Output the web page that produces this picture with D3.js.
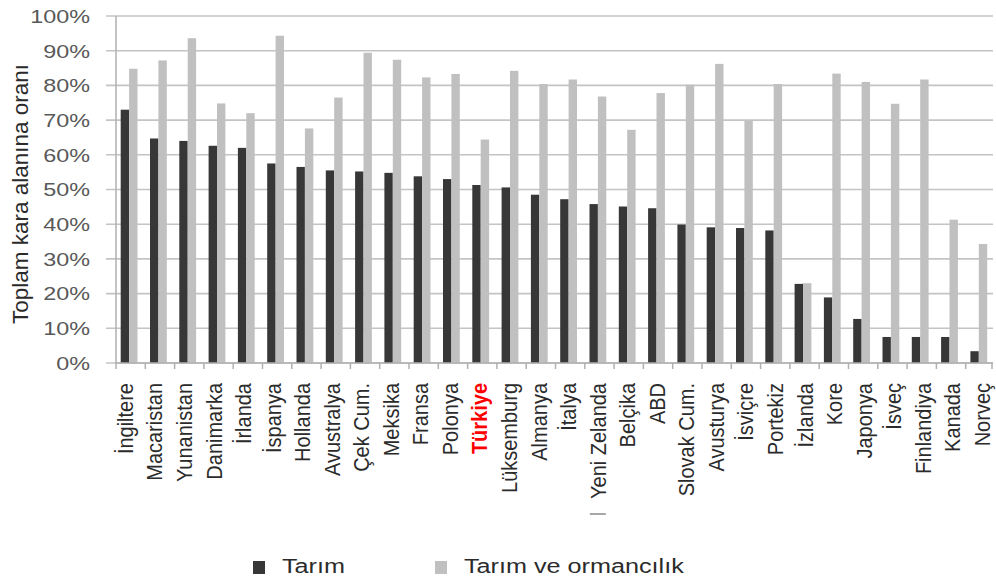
<!DOCTYPE html>
<html><head><meta charset="utf-8">
<script src="https://cdn.jsdelivr.net/npm/d3@7"></script>
<style>body{margin:0;background:#fff}svg{display:block}text{font-family:"Liberation Sans",Arial,sans-serif}</style>
</head><body><svg id="c" width="996" height="578"></svg>
<script>
const categories = ["İngiltere","Macaristan","Yunanistan","Danimarka","İrlanda","İspanya","Hollanda","Avustralya","Çek Cum.","Meksika","Fransa","Polonya","Türkiye","Lüksemburg","Almanya","İtalya","Yeni Zelanda","Belçika","ABD","Slovak Cum.","Avusturya","İsviçre","Portekiz","İzlanda","Kore","Japonya","İsveç","Finlandiya","Kanada","Norveç"];
const tarim = [73,64.7,64,62.6,62,57.5,56.5,55.5,55.2,54.8,53.8,53,51.3,50.6,48.5,47.2,45.8,45.1,44.6,39.9,39.1,38.9,38.2,22.8,18.9,12.7,7.5,7.5,7.5,3.4];
const tarimOrman = [84.8,87.2,93.6,74.8,72,94.3,67.6,76.5,89.4,87.4,82.3,83.3,64.4,84.2,80.4,81.7,76.8,67.2,77.8,80.2,86.2,69.9,80.4,23,83.4,81,74.7,81.7,41.3,34.3];
const yTicks = [0,10,20,30,40,50,60,70,80,90,100];
const seriesNames = ["Tarım","Tarım ve ormancılık"];
const seriesColors = ["#373737","#c0c0c0"];
const highlight = "Türkiye";

const svg = d3.select("#c");
const y = d3.scaleLinear().domain([0,100]).range([363,16]);
const x = d3.scaleBand().domain(categories).range([116,995]);
const xs = d3.scaleBand().domain([0,1]).range([4.7,21.5]);
const xl = d3.scalePoint().domain(categories).range([125,982]);

// gridlines
svg.append("g").selectAll("line").data(yTicks).join("line")
  .attr("x1",106).attr("x2",993).attr("y1",d=>y(d)).attr("y2",d=>y(d))
  .attr("stroke","#c4c4c4").attr("stroke-width",1.6);

// y tick labels
svg.append("g").selectAll("text").data(yTicks).join("text")
  .attr("transform",d=>`translate(90,${y(d)}) scale(1.23,1)`)
  .attr("dy","0.36em").attr("text-anchor","end")
  .attr("font-size",19).attr("fill","#595959").text(d=>d+"%");

// y axis line
svg.append("line").attr("x1",116).attr("x2",116).attr("y1",y(100)).attr("y2",y(0))
  .attr("stroke","#b0b0b0").attr("stroke-width",1.5);

// bars
const data = categories.map((c,i)=>({c, v:[tarim[i],tarimOrman[i]]}));
const g = svg.append("g").selectAll("g").data(data).join("g")
  .attr("transform",d=>`translate(${x(d.c)},0)`);
g.selectAll("rect").data(d=>d.v.map((v,k)=>({v,k}))).join("rect")
  .attr("x",d=>xs(d.k)).attr("width",xs.bandwidth())
  .attr("y",d=>y(d.v)).attr("height",d=>y(0)-y(d.v))
  .attr("fill",d=>seriesColors[d.k]);

// x axis line + ticks
svg.append("line").attr("x1",116).attr("x2",993).attr("y1",y(0)).attr("y2",y(0))
  .attr("stroke","#b0b0b0").attr("stroke-width",1.5);
const bounds = categories.map(c=>x(c)).concat([x(categories[categories.length-1])+x.bandwidth()-3]);
svg.append("g").selectAll("line").data(bounds).join("line")
  .attr("x1",d=>d).attr("x2",d=>d).attr("y1",y(0)).attr("y2",y(0)+6)
  .attr("stroke","#b0b0b0").attr("stroke-width",1.5);

// x labels
svg.append("g").selectAll("text").data(categories).join("text")
  .attr("transform",d=>`translate(${xl(d)},383) scale(1.12,1) rotate(-90)`)
  .attr("dy","0.35em").attr("text-anchor","end")
  .attr("font-size",20)
  .attr("fill",d=>d===highlight?"#ff0000":"#2b2b2b")
  .attr("font-weight",d=>d===highlight?"bold":"normal")
  .text(d=>d);

// stray dash under Yeni Zelanda label
svg.append("line").attr("x1",xl("Yeni Zelanda")-8).attr("x2",xl("Yeni Zelanda")+8)
  .attr("y1",514).attr("y2",514).attr("stroke","#a8a8a8").attr("stroke-width",2);

// y title
svg.append("text").attr("transform","translate(27.5,194) rotate(-90)")
  .attr("text-anchor","middle").attr("font-size",22.5).attr("fill","#2b2b2b")
  .text("Toplam kara alanına oranı");

// legend
const legX = [253,435];
const lg = svg.append("g").selectAll("g").data(seriesNames).join("g")
  .attr("transform",(d,i)=>`translate(${legX[i]},0)`);
lg.append("rect").attr("x",0).attr("y",561).attr("width",12).attr("height",13)
  .attr("fill",(d,i)=>seriesColors[i]);
lg.append("text").attr("transform","translate(29,573) scale(1.2,1)")
  .attr("font-size",21).attr("fill","#2b2b2b").text(d=>d);
</script></body></html>
